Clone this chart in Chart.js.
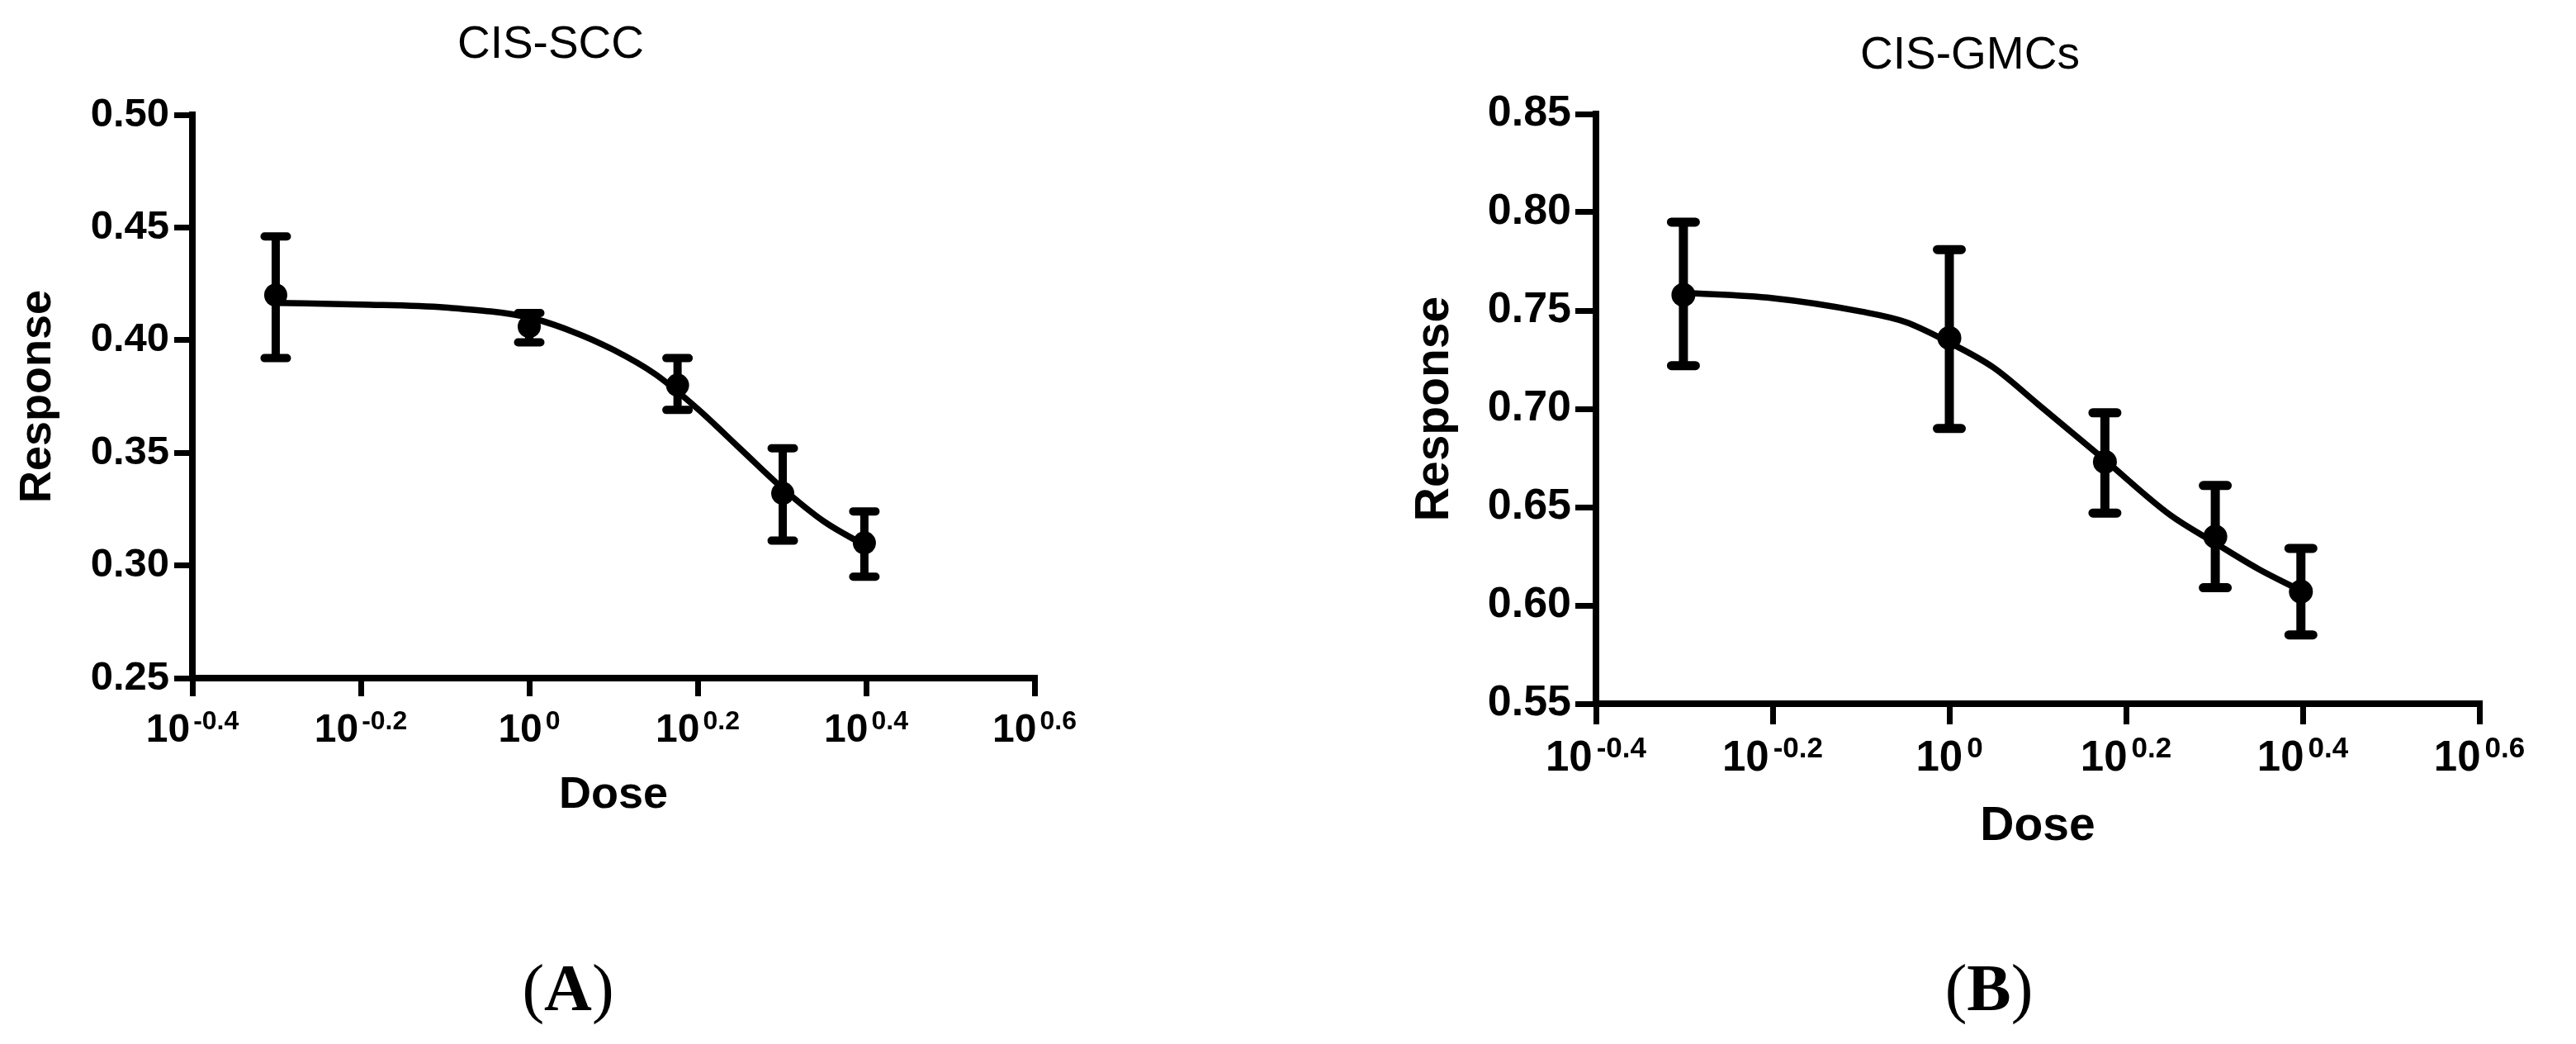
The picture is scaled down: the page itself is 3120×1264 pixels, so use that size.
<!DOCTYPE html>
<html><head><meta charset="utf-8">
<script src="https://cdn.jsdelivr.net/npm/chart.js@4.4.1/dist/chart.umd.min.js"></script>
<style>
html,body{margin:0;padding:0;background:#fff;width:3120px;height:1264px;overflow:hidden;position:relative}
.cv{position:absolute;top:0}
.lab{position:absolute;width:300px;text-align:center;font-family:'Liberation Serif','Times New Roman',serif;font-size:80px;line-height:80px;color:#000;font-weight:normal}
.lab b{font-weight:bold}
</style></head><body>
<div class="cv" style="left:0;width:1334px;height:1264px"><canvas id="ca"></canvas></div>
<div class="cv" style="left:1690px;width:1392px;height:1264px"><canvas id="cb"></canvas></div>
<div class="lab" style="left:538px;top:1156px">(<b>A</b>)</div>
<div class="lab" style="left:2259px;top:1156px">(<b>B</b>)</div>
<script>
// ---- data ----
const doses = [0.5, 1, 1.5, 2, 2.5];
const xTickExps = [-0.4, -0.2, 0, 0.2, 0.4, 0.6];
const xTickExpLabels = ['-0.4', '-0.2', '0', '0.2', '0.4', '0.6'];
const xAxisTitle = 'Dose';
const yAxisTitle = 'Response';

const sccTitle = 'CIS-SCC';
const sccMean  = [0.420, 0.406, 0.380, 0.332, 0.310];
const sccUpper = [0.446, 0.412, 0.392, 0.352, 0.324];
const sccLower = [0.392, 0.399, 0.369, 0.311, 0.295];
const sccCurveLog = [-0.301, -0.2, -0.1, 0, 0.05, 0.1, 0.15, 0.2, 0.25, 0.3, 0.35, 0.398];
const sccCurveVal = [0.4165, 0.4158, 0.4145, 0.4100, 0.4040, 0.3957, 0.3848, 0.3695, 0.3520, 0.3345, 0.3195, 0.3090];
const sccYTicks = [0.25, 0.30, 0.35, 0.40, 0.45, 0.50];

const gmcTitle = 'CIS-GMCs';
const gmcMean  = [0.758, 0.736, 0.673, 0.635, 0.607];
const gmcUpper = [0.795, 0.781, 0.698, 0.661, 0.629];
const gmcLower = [0.722, 0.690, 0.647, 0.609, 0.585];
const gmcCurveLog = [-0.301, -0.2, -0.1, -0.05, 0, 0.05, 0.1, 0.176, 0.25, 0.3, 0.35, 0.398];
const gmcCurveVal = [0.7590, 0.7563, 0.7495, 0.7442, 0.7337, 0.7210, 0.7025, 0.6740, 0.6460, 0.6320, 0.6185, 0.6075];
const gmcYTicks = [0.55, 0.60, 0.65, 0.70, 0.75, 0.80, 0.85];

const F = "'Liberation Sans', Arial, Helvetica, sans-serif";

const errorBarPlugin = {
  id: 'ebars',
  beforeDatasetsDraw(chart, args, o) {
    const {ctx, scales: {x, y}} = chart;
    ctx.save();
    ctx.strokeStyle = '#000';
    ctx.lineWidth = o.w;
    for (let i = 0; i < doses.length; i++) {
      const px = x.getPixelForValue(doses[i]);
      const pHi = y.getPixelForValue(o.upper[i]);
      const pLo = y.getPixelForValue(o.lower[i]);
      ctx.lineCap = 'butt';
      ctx.beginPath(); ctx.moveTo(px, pHi); ctx.lineTo(px, pLo); ctx.stroke();
      ctx.lineCap = 'round';
      ctx.beginPath();
      ctx.moveTo(px - o.cap, pHi); ctx.lineTo(px + o.cap, pHi);
      ctx.moveTo(px - o.cap, pLo); ctx.lineTo(px + o.cap, pLo);
      ctx.stroke();
    }
    ctx.restore();
  }
};

const xSupPlugin = {
  id: 'xsup',
  afterDraw(chart, args, o) {
    const {ctx, scales: {x}, chartArea} = chart;
    ctx.save();
    ctx.fillStyle = '#000';
    ctx.textAlign = 'left';
    ctx.textBaseline = 'alphabetic';
    const baseFont = 'bold ' + o.base + 'px ' + F;
    const expFont = 'bold ' + o.exp + 'px ' + F;
    const by = chartArea.bottom + o.off;
    xTickExps.forEach((e, i) => {
      const px = x.getPixelForValue(Math.pow(10, e));
      ctx.font = baseFont; const wb = ctx.measureText('10').width;
      ctx.font = expFont; const we = ctx.measureText(xTickExpLabels[i]).width;
      const start = px - (wb + o.gap + we) / 2;
      ctx.font = baseFont; ctx.fillText('10', start, by);
      ctx.font = expFont; ctx.fillText(xTickExpLabels[i], start + wb + o.gap, by - o.raise);
    });
    ctx.restore();
  }
};

function panel(id, d, s) {
  const curve = d.curveLog.map((e, i) => ({x: Math.pow(10, e), y: d.curveVal[i]}));
  const pts = doses.map((v, i) => ({x: v, y: d.mean[i]}));
  const grid = {display: true, drawOnChartArea: false, drawTicks: true, tickLength: s.tickLen, lineWidth: s.tickW, color: '#000'};
  const border = {display: true, width: s.axisW, color: '#000'};
  return new Chart(document.getElementById(id), {
    type: 'scatter',
    data: {datasets: [
      {type: 'line', data: curve, borderColor: '#000', borderWidth: s.lw, pointRadius: 0, tension: 0.4,
       cubicInterpolationMode: 'monotone', fill: false},
      {type: 'scatter', data: pts, pointRadius: s.r, pointHoverRadius: s.r, pointBackgroundColor: '#000',
       pointBorderWidth: 0, borderColor: '#000'}
    ]},
    options: {
      responsive: true, maintainAspectRatio: false, animation: false, events: [],
      layout: {padding: {left: s.padLeft, top: 0, right: s.padRight, bottom: 0}},
      plugins: {
        legend: {display: false}, tooltip: {enabled: false},
        title: {display: true, text: d.title, color: '#000',
          font: {family: F, size: s.titleSize, weight: 'normal'},
          padding: {top: s.titlePadTop, bottom: s.titlePadBottom}},
        ebars: {upper: d.upper, lower: d.lower, w: s.ebW, cap: s.cap},
        xsup: {base: s.xBase, exp: s.xExp, off: s.xOff, raise: s.raise, gap: s.gap}
      },
      scales: {
        x: {type: 'logarithmic', position: 'bottom',
          min: Math.pow(10, xTickExps[0]), max: Math.pow(10, xTickExps[xTickExps.length - 1]),
          afterBuildTicks: sc => { sc.ticks = xTickExps.map(e => ({value: Math.pow(10, e)})); },
          afterFit: sc => { sc.height = s.xH; },
          ticks: {display: false},
          grid: grid, border: border,
          title: {display: true, text: xAxisTitle, color: '#000',
            font: {family: F, size: s.axTitleSize, weight: 'bold'}, padding: {top: 0, bottom: s.doseBottom}}
        },
        y: {type: 'linear', position: 'left', min: d.yTicks[0], max: d.yTicks[d.yTicks.length - 1],
          afterBuildTicks: sc => { sc.ticks = d.yTicks.map(v => ({value: v})); },
          afterFit: sc => { sc.width = s.yW; },
          ticks: {color: '#000', font: {family: F, size: s.yTickSize, weight: 'bold'}, padding: s.yTickPad,
            autoSkip: false, callback: v => Number(v).toFixed(2)},
          grid: grid, border: border,
          title: {display: true, text: yAxisTitle, color: '#000',
            font: {family: F, size: s.axTitleSize, weight: 'bold'}, padding: {top: s.respTop, bottom: 0}}
        }
      }
    },
    plugins: [errorBarPlugin, xSupPlugin]
  });
}

panel('ca',
  {title: sccTitle, mean: sccMean, upper: sccUpper, lower: sccLower, curveLog: sccCurveLog, curveVal: sccCurveVal, yTicks: sccYTicks},
  {padLeft: 81, padRight: 81, titleSize: 55, titlePadTop: 22, titlePadBottom: 51, xH: 443, yW: 152,
   tickLen: 22, tickW: 7, axisW: 8, axTitleSize: 54, doseBottom: 268.3, yTickSize: 49, yTickPad: 6,
   respTop: -67.4, lw: 7.5, r: 14, ebW: 10, cap: 13.5, xBase: 48, xExp: 32, xOff: 77, raise: 15, gap: 4});

panel('cb',
  {title: gmcTitle, mean: gmcMean, upper: gmcUpper, lower: gmcLower, curveLog: gmcCurveLog, curveVal: gmcCurveVal, yTicks: gmcYTicks},
  {padLeft: 79, padRight: 79, titleSize: 55, titlePadTop: 35, titlePadBottom: 37, xH: 412, yW: 164,
   tickLen: 25, tickW: 7, axisW: 8, axTitleSize: 57, doseBottom: 228.8, yTickSize: 52, yTickPad: 5,
   respTop: -65.2, lw: 7.5, r: 14.5, ebW: 11, cap: 14.5, xBase: 51, xExp: 35, xOff: 81, raise: 16, gap: 5});
</script>
</body></html>
